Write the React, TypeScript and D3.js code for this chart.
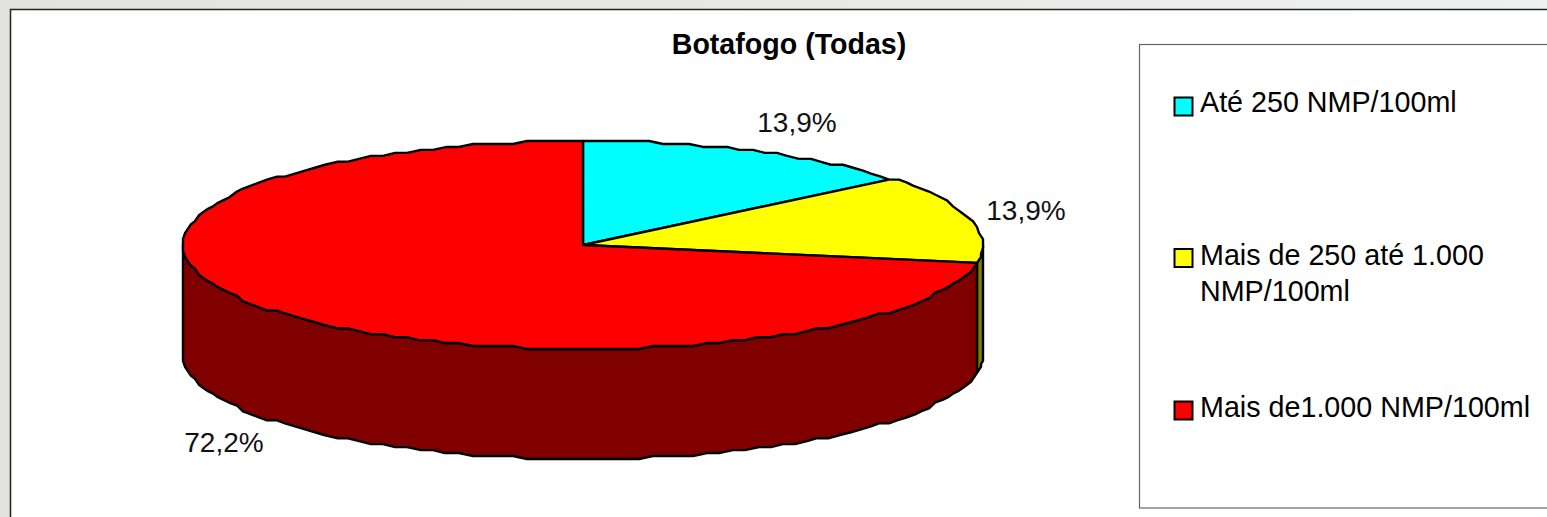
import React from "react";
import * as d3 from "d3";

const title = "Botafogo (Todas)";
const categories = ["Até 250 NMP/100ml", "Mais de 250 até 1.000 NMP/100ml", "Mais de1.000 NMP/100ml"];
const legendLines = [["Até 250 NMP/100ml"], ["Mais de 250 até 1.000", "NMP/100ml"], ["Mais de1.000 NMP/100ml"]];
const values = [13.9, 13.9, 72.2];
const labels = ["13,9%", "13,9%", "72,2%"];
const colors = ["#00ffff", "#ffff00", "#ff0000"];
const sideColors = ["#008080", "#808000", "#800000"];

const W = 1547, H = 517;
const cx = 583, cy = 245, rx = 400, ry = 104, depth = 110;
const FONT = "'Liberation Sans', Arial, sans-serif";

export default function App() {
  const pie = d3.pie<number>().sort(null).value((d) => d).startAngle(0).endAngle(2 * Math.PI);
  const arcs = pie(values);
  const stepY = ry / 35, stepX = 2;
  const px = (a: number) => cx + Math.round((rx * Math.sin(a)) / stepX) * stepX;
  const py = (a: number) => cy - Math.round((ry * Math.cos(a)) / stepY) * stepY;
  const points = (a0: number, a1: number) => {
    const n = Math.max(2, Math.ceil(((a1 - a0) / (2 * Math.PI)) * 180));
    return d3.range(n + 1).map((i) => {
      const a = a0 + ((a1 - a0) * i) / n;
      return [px(a), py(a)] as [number, number];
    });
  };
  const line = d3.line();
  const hi = Math.PI / 2, lo = (3 * Math.PI) / 2;
  const sides = arcs.map((s, i) => {
    const a0 = Math.max(s.startAngle, hi), a1 = Math.min(s.endAngle, lo);
    if (a1 <= a0) return null;
    const top = points(a0, a1);
    const bottom = top.map(([x, y]) => [x, y + depth] as [number, number]).reverse();
    return <path key={i} d={line([...top, ...bottom])! + "Z"} fill={sideColors[i]} stroke="#000" strokeWidth={2.4} strokeLinejoin="round" />;
  });
  const tops = arcs.map((s, i) => (
    <path key={i} d={line([[cx, cy], ...points(s.startAngle, s.endAngle)])! + "Z"} fill={colors[i]} stroke="#000" strokeWidth={2.4} strokeLinejoin="round" />
  ));
  const labelPos: [number, number][] = [[797, 132], [1026, 220], [224, 452]];
  const legendY = [106.5, 258, 410.5];
  const legendBase = [111.5, 264.5, 416.5];
  return (
    <svg width={W} height={H} viewBox={`0 0 ${W} ${H}`} style={{ position: "fixed", left: 0, top: 0, display: "block" }} fontFamily={FONT}>
      <defs>
        <linearGradient id="bg" x1="0" x2="1" y1="0" y2="0">
          <stop offset="0" stopColor="#e2e2e0" />
          <stop offset="0.5" stopColor="#e8e8e6" />
          <stop offset="1" stopColor="#eff1f1" />
        </linearGradient>
      </defs>
      <rect width={W} height={H} fill="url(#bg)" />
      <rect x={10.5} y={9.5} width={W} height={H} fill="#fff" stroke="#222" strokeWidth={1.5} />
      <text x={789} y={54} textAnchor="middle" fontSize={28.6} fontWeight="bold" fill="#000">{title}</text>
      {sides}
      {tops}
      {labels.map((t, i) => (
        <text key={i} x={labelPos[i][0]} y={labelPos[i][1]} textAnchor="middle" fontSize={28} fill="#111">{t}</text>
      ))}
      <rect x={1139.5} y={44.5} width={W} height={463.5} fill="#fff" stroke="#666" strokeWidth={1.2} />
      {categories.map((c, i) => (
        <g key={c}>
          <rect x={1174.5} y={legendY[i] - 9} width={18} height={18} fill={colors[i]} stroke="#000" strokeWidth={2} />
          <text fontSize={28.7} fill="#000">
            {legendLines[i].map((l, j) => (
              <tspan key={j} x={1200} y={legendBase[i] + j * 36}>{l}</tspan>
            ))}
          </text>
        </g>
      ))}
    </svg>
  );
}
